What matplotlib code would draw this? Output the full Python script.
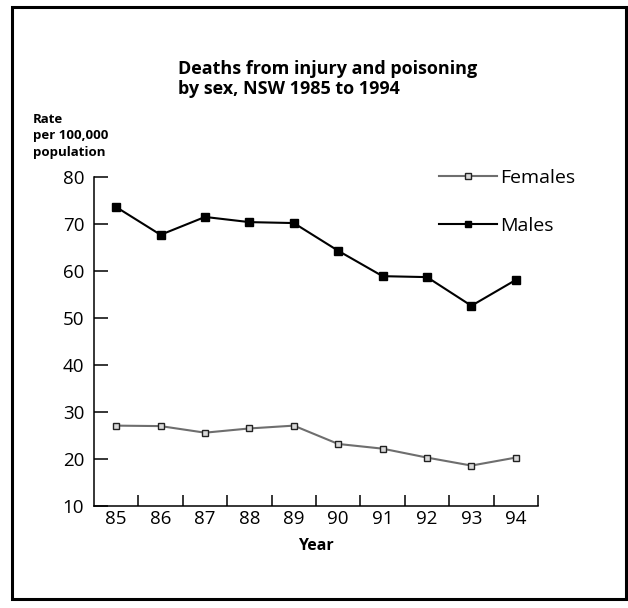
import matplotlib
matplotlib.use("Agg")
import matplotlib.pyplot as plt
from matplotlib.patches import Rectangle
from matplotlib.lines import Line2D

plt.rcParams['font.family'] = ['Open Sans', 'DejaVu Sans']

years = ["85", "86", "87", "88", "89", "90", "91", "92", "93", "94"]
females = [27.1, 27.0, 25.6, 26.5, 27.1, 23.2, 22.2, 20.3, 18.6, 20.3]
males = [73.6, 67.7, 71.5, 70.4, 70.2, 64.3, 58.9, 58.7, 52.6, 58.1]
yticks = [10, 20, 30, 40, 50, 60, 70, 80]

W, H = 628, 608
fig = plt.figure(figsize=(W / 100, H / 100), dpi=100)

# outer frame
fig.add_artist(Rectangle((12 / W, 1 - 599 / H), (626 - 12) / W, (599 - 7) / H,
                         transform=fig.transFigure, fill=False, edgecolor='black', lw=2.2))

ax = fig.add_axes([94 / W, (H - 506) / H, (538 - 94) / W, (506 - 177) / H])
x = [i + 0.5 for i in range(len(years))]

ax.plot(x, females, color='#6e6e6e', lw=1.5, marker='s', markersize=5,
        markerfacecolor='#d9d9d9', markeredgecolor='#222222', markeredgewidth=1.0)
ax.plot(x, males, color='black', lw=1.5, marker='s', markersize=5.2,
        markerfacecolor='black', markeredgecolor='black')

ax.set_xlim(0, len(years))
ax.set_ylim(10, 80)
for s in ['top', 'right']:
    ax.spines[s].set_visible(False)
for s in ['left', 'bottom']:
    ax.spines[s].set_linewidth(1.1)

ax.set_xticks(list(range(1, len(years) + 1)))
ax.set_xticklabels([])
ax.set_xticks(x, minor=True)
ax.set_xticklabels(years, minor=True, fontsize=13.5)
ax.tick_params(axis='x', which='major', direction='in', length=8, width=1.1)
ax.tick_params(axis='x', which='minor', length=0, pad=3)
ax.set_yticks(yticks)
ax.set_yticklabels([str(v) for v in yticks], fontsize=13.5)
ax.tick_params(axis='y', direction='in', length=10, width=1.1, pad=7)

ax.set_xlabel("Year", fontsize=11.5, fontweight='bold', labelpad=7)

fig.text(178 / W, 1 - 79 / H, "Deaths from injury and poisoning\nby sex, NSW 1985 to 1994",
         ha='left', va='center', fontsize=13, fontweight='bold', linespacing=1.2)
fig.text(33 / W, 1 - 136 / H, "Rate\nper 100,000\npopulation", ha='left', va='center',
         fontsize=9.5, fontweight='bold', linespacing=1.35)

handles = [
    Line2D([], [], color='#6e6e6e', lw=1.5, marker='s', markersize=5,
           markerfacecolor='#d9d9d9', markeredgecolor='#222222'),
    Line2D([], [], color='black', lw=1.5, marker='s', markersize=5,
           markerfacecolor='black', markeredgecolor='black'),
]
leg = fig.legend(handles, ["Females", "Males"], loc='upper left',
                 bbox_to_anchor=(433 / W, 1 - 163 / H), frameon=False, fontsize=14,
                 handlelength=3.0, handletextpad=0.15, labelspacing=1.55,
                 borderaxespad=0, borderpad=0.3)

fig.savefig("out.png", dpi=100)
